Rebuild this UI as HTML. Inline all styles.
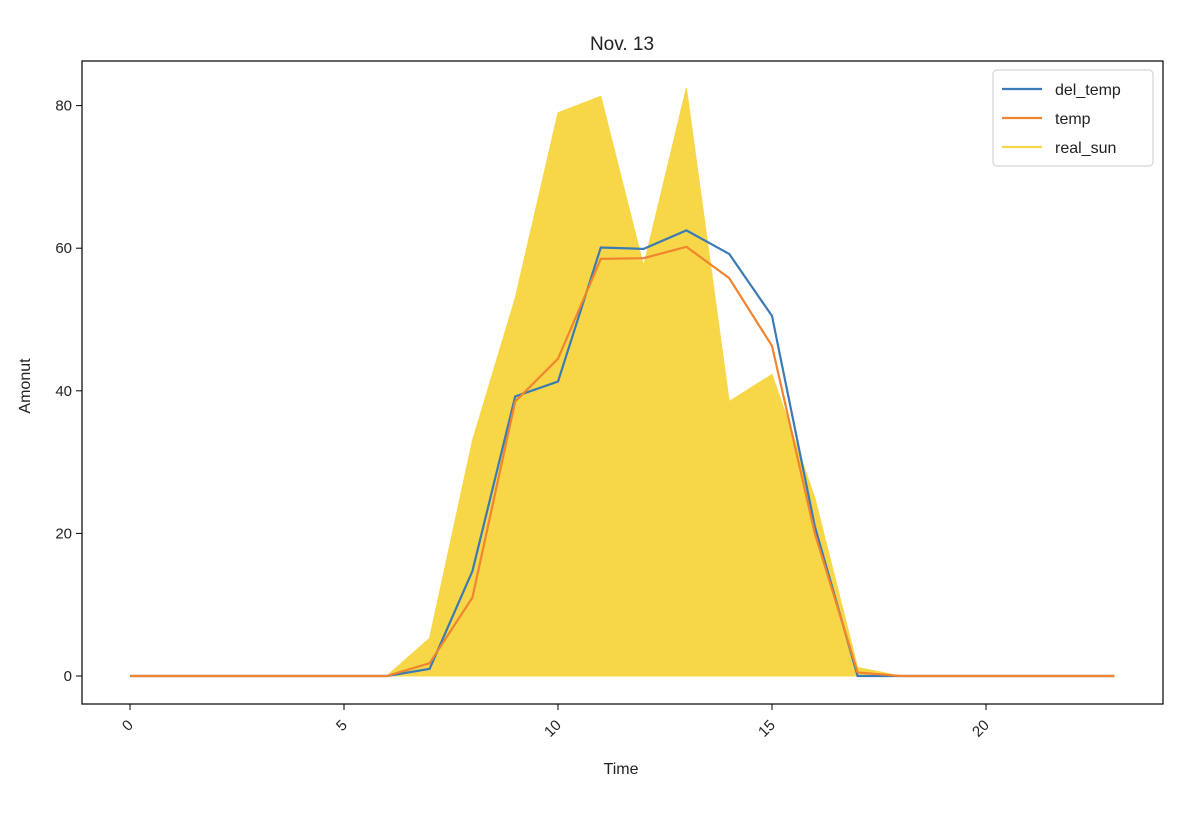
<!DOCTYPE html>
<html><head><meta charset="utf-8"><style>
body{margin:0;background:#fff;}
svg text{font-family:"Liberation Sans",sans-serif;fill:#222;}
</style></head><body>
<svg id="chart" width="1200" height="814" xmlns="http://www.w3.org/2000/svg"></svg>
<script>
const hours=[0,1,2,3,4,5,6,7,8,9,10,11,12,13,14,15,16,17,18,19,20,21,22,23];
const realSun=[0,0,0,0,0,0,0,5.3,33,53,79,81.3,57.5,82.5,38.5,42.3,25,1.2,0,0,0,0,0,0];
const delTemp=[0,0,0,0,0,0,0,1,14.7,39.2,41.3,60.1,59.9,62.5,59.2,50.5,21,0,0,0,0,0,0,0];
const temp=[0,0,0,0,0,0,0,1.8,11,38.5,44.5,58.5,58.6,60.2,55.8,46.3,20,0.5,0,0,0,0,0,0];
const xTicks=[0,5,10,15,20];
const yTicks=[0,20,40,60,80];
const L=82,R=1163,T=61,B=704;
const xs=v=>130+(v-0)*42.8;
const ys=v=>676-v*7.13;
const svg=document.getElementById('chart');
const NS='http://www.w3.org/2000/svg';
function mk(tag,attrs,parent){const e=document.createElementNS(NS,tag);for(const k in attrs)e.setAttribute(k,attrs[k]);(parent||svg).appendChild(e);return e;}
// fill
let d='M'+xs(hours[0])+','+ys(0);
hours.forEach((h,i)=>{d+=' L'+xs(h)+','+ys(realSun[i]);});
d+=' L'+xs(hours[hours.length-1])+','+ys(0)+' Z';
const fill=mk('path',{d:d,fill:'#f7d748',stroke:'#f7d748','stroke-width':1});


function line(vals,color,name){
  const p=mk('polyline',{points:hours.map((h,i)=>xs(h)+','+ys(vals[i])).join(' '),fill:'none',stroke:color,'stroke-width':2.2});
  
  
}
line(delTemp,'#3a7ab5','del-temp-line');
line(temp,'#f0842f','temp-line');
const frame=mk('rect',{x:L,y:T,width:R-L,height:B-T,fill:'none',stroke:'#000','stroke-width':1.2});


xTicks.forEach(v=>{
  const x=xs(v);
  mk('line',{x1:x,x2:x,y1:B,y2:B+6,stroke:'#000'});
  const t=mk('text',{x:x+4,y:B+22,'font-size':15,'text-anchor':'end',transform:`rotate(-45 ${x+4} ${B+22})`});
  t.textContent=v;
  
  
});
yTicks.forEach(v=>{
  const y=ys(v);
  mk('line',{x1:L-6,x2:L,y1:y,y2:y,stroke:'#000'});
  const t=mk('text',{x:L-10,y:y+5,'font-size':15,'text-anchor':'end'});
  t.textContent=v;
  
  
});
let t=mk('text',{x:622,y:50,'font-size':19,'text-anchor':'middle'});t.textContent='Nov. 13';


t=mk('text',{x:621,y:774,'font-size':16,'text-anchor':'middle'});t.textContent='Time';


t=mk('text',{x:30,y:386,'font-size':16,'text-anchor':'middle',transform:'rotate(-90 30 386)'});t.textContent='Amonut';


const lg=mk('g',{});


mk('rect',{x:993,y:70,width:160,height:96,rx:4,fill:'#fff','fill-opacity':0.8,stroke:'#ccc'},lg);
[['del_temp','#3a7ab5'],['temp','#f0842f'],['real_sun','#f7d748']].forEach((e,i)=>{
  const y=89+i*29;
  const ln=mk('line',{x1:1002,x2:1042,y1:y,y2:y,stroke:e[1],'stroke-width':2.2},lg);
  
  
  const tx=mk('text',{x:1055,y:y+6,'font-size':16},lg);tx.textContent=e[0];
  
  
});
</script>
</body></html>
